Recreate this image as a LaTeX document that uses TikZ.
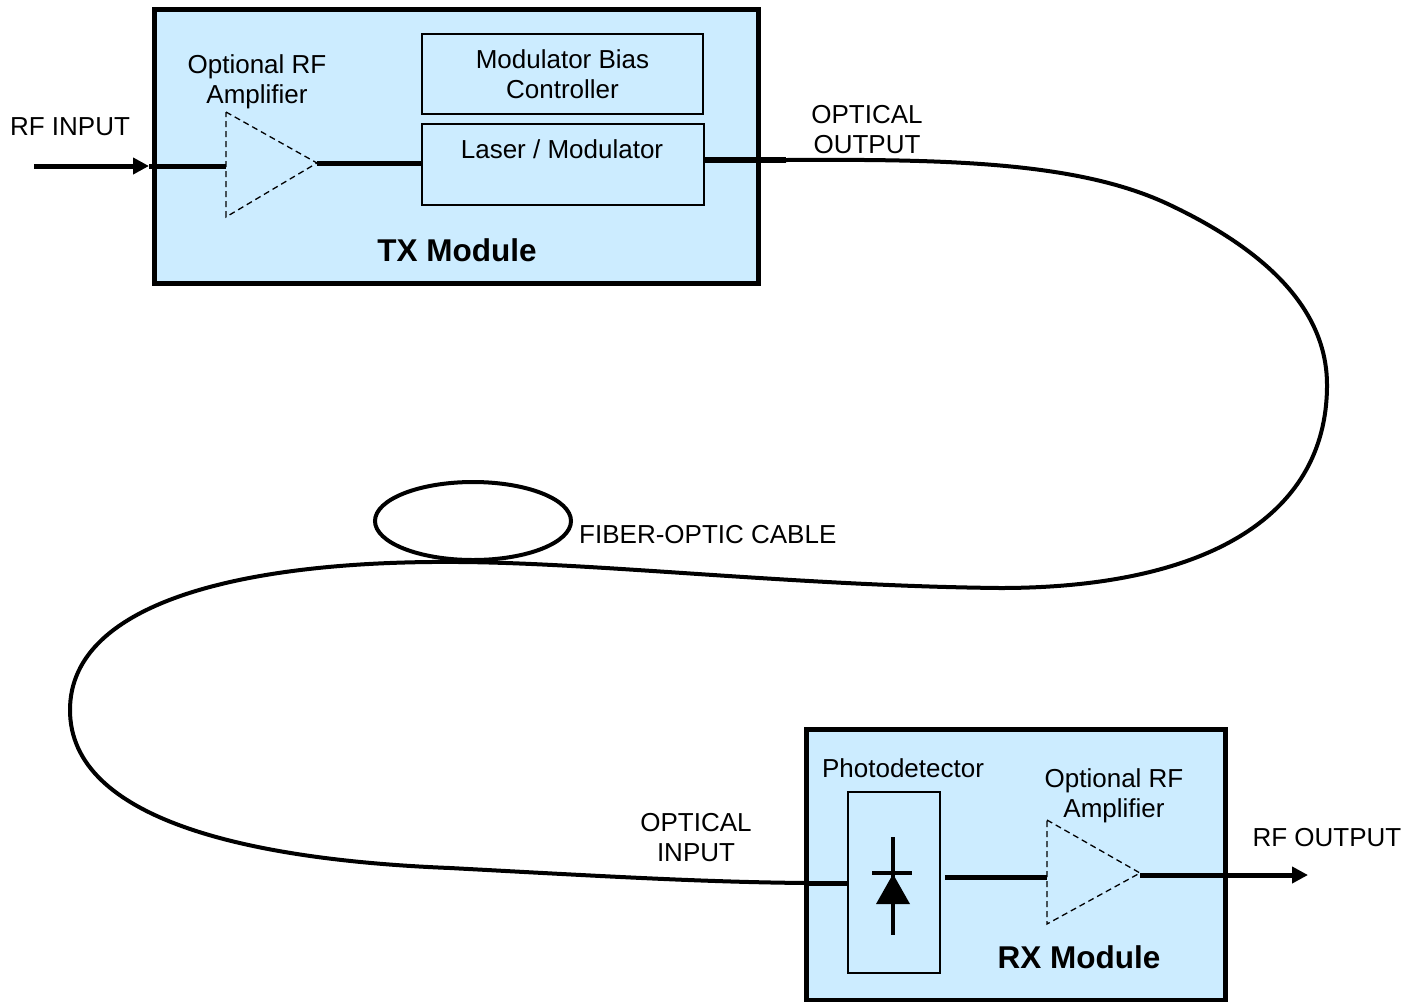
\documentclass[tikz,border=0pt]{standalone}
\usepackage{fontspec}
\setmainfont{Liberation Sans}
\usetikzlibrary{arrows.meta}
\definecolor{modfill}{RGB}{204,236,255}
\begin{document}
\begin{tikzpicture}[x=1pt,y=-1pt,
  lbl/.style={inner sep=0pt, font=\fontsize{26}{30}\selectfont, align=center},
  ttl/.style={inner sep=0pt, font=\fontsize{31.5}{36}\selectfont\bfseries},
  module/.style={draw=black, line width=4.5pt, fill=modfill, inner sep=0pt},
  inbox/.style={draw=black, line width=1.8pt, inner sep=0pt, align=center, font=\fontsize{26}{30}\selectfont},
  wire/.style={line width=5pt},
  fiber/.style={line width=4pt, line join=round},
  ampstyle/.style={dash pattern=on 6pt off 4pt, line width=1.3pt, line join=miter},
  sig/.style={line width=5pt, -{Triangle[length=16pt,width=16pt]}},
]
\useasboundingbox (0,0) rectangle (1423,1005);

% ---------- TX module ----------
\node[module, minimum width=604pt, minimum height=274pt] (tx) at (456.5,146.5) {};
\node[inbox, minimum width=281pt, minimum height=80pt] (bias) at (562.5,74) {Modulator Bias\\Controller};
\node[inbox, minimum width=282pt, minimum height=81pt] (laser) at (563,164.5) {};
\node[lbl] (lasertxt) at (562,149) {Laser / Modulator};
\node[ttl] (txtitle) at (457,250) {TX Module};
\node[lbl] (amp1lbl) at (257,82) {Optional RF\\Amplifier};

\coordinate (a1top) at (226,112);
\coordinate (a1bot) at (226,217);
\coordinate (a1tip) at (317,163);
\coordinate (a1in) at (226,166);
\draw[ampstyle] (a1top) -- (a1tip) -- (a1bot) -- cycle;

\node[lbl] (rfinlbl) at (70,127) {RF INPUT};
\coordinate (rfin) at (34,166);
\coordinate (rftip) at (149,166);
\draw[sig] (rfin) -- (rftip);
\draw[wire] (rftip) -- (a1in);
\draw[wire] (a1tip) -- (laser.west |- a1tip);

\coordinate (txo) at (786,160);
\draw[line width=5.5pt] (laser.east |- txo) -- (txo);
\node[lbl] (optoutlbl) at (867,129.5) {OPTICAL\\OUTPUT};

% ---------- RX module ----------
\node[module, minimum width=419pt, minimum height=270.5pt] (rx) at (1016,864.75) {};
\node[inbox, minimum width=92pt, minimum height=181pt] (pd) at (894,882.5) {};
\node[lbl] (pdlbl) at (903,768) {Photodetector};
\node[ttl] (rxtitle) at (1079,957) {RX Module};
\node[lbl] (amp2lbl) at (1114,796) {Optional RF\\Amplifier};
\node[lbl] (optinlbl) at (696,838) {OPTICAL\\INPUT};
\node[lbl] (rfoutlbl) at (1327,838) {RF OUTPUT};

% diode
\coordinate (dtop) at (893,837);
\coordinate (dbot) at (893,935);
\draw[line width=4pt] (dtop) -- (dbot);
\draw[line width=4pt] (872,873) -- (912,873);
\fill (876,904) -- (910,904) -- (893,874) -- cycle;

\coordinate (rxin) at (806,883);
\draw[wire] (rxin) -- (pd.west |- rxin);

\coordinate (a2top) at (1047,820);
\coordinate (a2bot) at (1047,924);
\coordinate (a2tip) at (1140,873);
\draw[ampstyle] (a2top) -- (a2tip) -- (a2bot) -- cycle;
\draw[wire] ([xshift=4pt]pd.east |- 0,877) -- (1047,877);
\coordinate (rfout) at (1308,875);
\draw[sig] (a2tip |- rfout) -- (rfout);

% ---------- fiber ----------
\draw[fiber] (txo)
  .. controls (950,159) and (1080,162) .. (1170,205)
  .. controls (1250,243) and (1327,300) .. (1327,385)
  .. controls (1327,520) and (1200,588) .. (1000,588)
  .. controls (800,586) and (600,563) .. (460,562)
  .. controls (250,560) and (70,600) .. (70,710)
  .. controls (70,820) and (250,860) .. (450,868)
  .. controls (600,876) and (700,882) .. (rxin);
\draw[line width=4pt] (473,521) ellipse [x radius=98pt, y radius=39pt];
\node[lbl, anchor=west] (fiberlbl) at (579,535) {FIBER-OPTIC CABLE};
\end{tikzpicture}
\end{document}
